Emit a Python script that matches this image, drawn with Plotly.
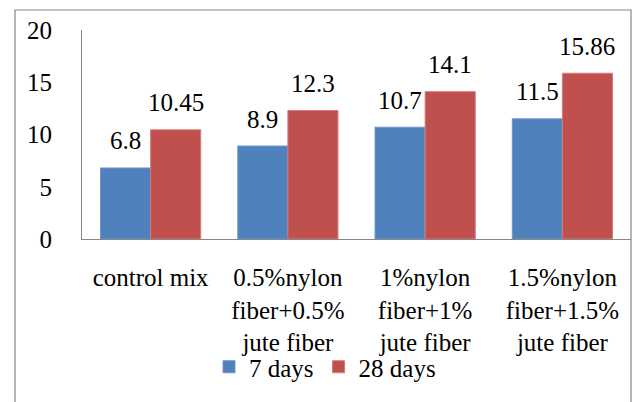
import plotly.graph_objects as go

categories = [
    "control mix",
    "0.5%nylon<br>fiber+0.5%<br>jute fiber",
    "1%nylon<br>fiber+1%<br>jute fiber",
    "1.5%nylon<br>fiber+1.5%<br>jute fiber",
]
series_names = ["7 days", "28 days"]
values_7 = [6.8, 8.9, 10.7, 11.5]
values_28 = [10.45, 12.3, 14.1, 15.86]
labels_7 = ["6.8", "8.9", "10.7", "11.5"]
labels_28 = ["10.45", "12.3", "14.1", "15.86"]
y_ticks = [0, 5, 10, 15, 20]

W, H = 636, 402
ML, MR, MT, MB = 82, 5, 30, 163
BARGAP = 0.27
FONT = "Liberation Serif"
colors = ["#4F81BD", "#C0504D"]
edges = ["#6F96C8", "#D37B78"]

fig = go.Figure()
for name, vals, c, e in zip(series_names, [values_7, values_28], colors, edges):
    fig.add_trace(go.Bar(x=categories, y=vals, name=name,
                         marker=dict(color=c, line=dict(color=e, width=1))))

plot_w = W - ML - MR
plot_h = H - MT - MB
bar_w = plot_w / len(categories) * (1 - BARGAP) / 2
annotations = []
for i, (vals, labs) in enumerate([(values_7, labels_7), (values_28, labels_28)]):
    for cat, v, lab in zip(categories, vals, labs):
        annotations.append(dict(x=cat, y=v, text=lab, showarrow=False,
                                xshift=(i - 0.5) * bar_w, yshift=27,
                                yanchor="middle", xanchor="center",
                                font=dict(family=FONT, size=25, color="black")))

def px_to_paper_x(px):
    return (px - ML) / plot_w

def px_to_paper_y(py):
    return (H - MB - py) / plot_h

fig.update_layout(
    width=W, height=H,
    margin=dict(l=ML, r=MR, t=MT, b=MB),
    paper_bgcolor="white", plot_bgcolor="white",
    barmode="group", bargap=BARGAP, bargroupgap=0,
    font=dict(family=FONT, size=24, color="black"),
    showlegend=True,
    legend=dict(orientation="h", x=px_to_paper_x(209), xanchor="left",
                y=px_to_paper_y(367), yanchor="middle",
                font=dict(family=FONT, size=25, color="black"),
                itemwidth=30, tracegroupgap=0, bgcolor="rgba(0,0,0,0)"),
    annotations=annotations,
    shapes=[dict(type="rect", xref="paper", yref="paper",
                 x0=px_to_paper_x(15), x1=px_to_paper_x(631),
                 y0=px_to_paper_y(410), y1=px_to_paper_y(10),
                 line=dict(color="#868686", width=1.2), layer="below")],
)
fig.update_xaxes(showline=True, linecolor="#868686", linewidth=1,
                 showgrid=False, ticks="", ticklabelstandoff=16,
                 tickfont=dict(family=FONT, size=25, color="black"))
fig.update_yaxes(range=[0, 20], tickvals=y_ticks, showline=True,
                 linecolor="#868686", linewidth=1, showgrid=False,
                 zeroline=False, ticks="", ticklabelstandoff=24,
                 tickfont=dict(family=FONT, size=25, color="black"))

fig.write_html("out.html", config={"displayModeBar": False},
               post_script="document.body.style.margin='0px';document.body.style.overflow='hidden';")
